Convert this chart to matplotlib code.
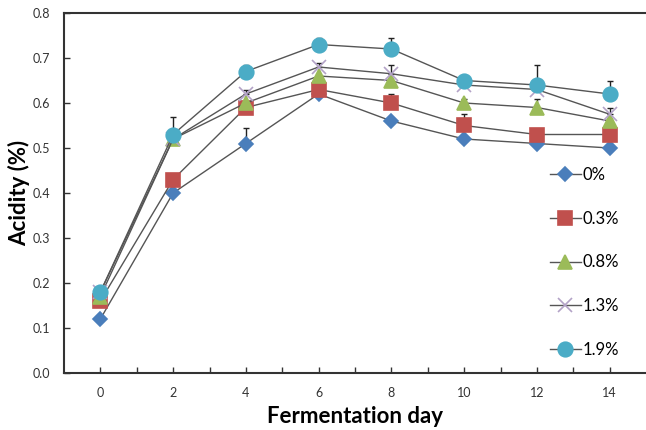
import matplotlib.pyplot as plt
import numpy as np

days = [0, 2, 4, 6, 8, 10, 12, 14]
labels = ['0%', '0.3%', '0.8%', '1.3%', '1.9%']

acid_0 = [0.12, 0.40, 0.51, 0.62, 0.56, 0.52, 0.51, 0.50]
acid_03 = [0.16, 0.43, 0.59, 0.63, 0.60, 0.55, 0.53, 0.53]
acid_08 = [0.17, 0.52, 0.60, 0.66, 0.65, 0.60, 0.59, 0.56]
acid_13 = [0.18, 0.52, 0.62, 0.68, 0.665, 0.64, 0.63, 0.575]
acid_19 = [0.18, 0.53, 0.67, 0.73, 0.72, 0.65, 0.64, 0.62]

err_0 = [0.0, 0.0, 0.035, 0.0, 0.0, 0.0, 0.0, 0.0]
err_03 = [0.0, 0.004, 0.005, 0.005, 0.02, 0.025, 0.0, 0.0]
err_08 = [0.0, 0.0, 0.005, 0.0, 0.0, 0.01, 0.02, 0.0]
err_13 = [0.01, 0.02, 0.01, 0.01, 0.02, 0.0, 0.0, 0.015]
err_19 = [0.0, 0.04, 0.015, 0.015, 0.025, 0.01, 0.045, 0.03]

plt.rcParams['font.family'] = ['Lato', 'DejaVu Sans']

fig = plt.figure(figsize=(6.46, 4.30), dpi=100)
ax = fig.add_axes([64/646, 57/430, 582/646, 360/430])

series = [
    (acid_0, err_0, 'D', '#4a7ebb', 7),
    (acid_03, err_03, 's', '#c0504d', 9.5),
    (acid_08, err_08, '^', '#9bbb59', 9.5),
    (acid_13, err_13, 'x', '#b3a2c7', 10),
    (acid_19, err_19, 'o', '#4bacc6', 10.5),
]

for (vals, errs, mk, col, ms), lab in zip(series, labels):
    lower = np.zeros(len(errs))
    ax.errorbar(days, vals, yerr=[lower, errs], fmt='none', ecolor='#222222',
                elinewidth=1, capsize=2, capthick=1, zorder=2)
    ax.plot(days, vals, linestyle='-', color='#555555', lw=1, marker=mk,
            markersize=ms, markerfacecolor=col, markeredgecolor=col,
            markeredgewidth=1.2, label=lab, zorder=4)

ax.set_xlim(-1, 15)
ax.set_ylim(0, 0.8)
ax.set_xticks(range(0, 15))
ax.set_xticklabels([str(d) if d % 2 == 0 else '' for d in range(0, 15)])
ax.set_yticks(np.arange(0, 0.81, 0.1))
ax.set_yticklabels(['%.1f' % v for v in np.arange(0, 0.81, 0.1)])
ax.tick_params(direction='in', length=4, width=1, labelsize=9, colors='#333333')
ax.tick_params(axis='x', pad=10)
ax.tick_params(axis='y', pad=10)

ax.spines['right'].set_visible(False)
for s in ['left', 'bottom', 'top']:
    ax.spines[s].set_color('#333333')
    ax.spines[s].set_linewidth(1.5)

ax.set_xlabel('Fermentation day', fontsize=16, fontweight='bold', labelpad=5)
ax.set_ylabel('Acidity (%)', fontsize=16, fontweight='bold', labelpad=2)

ax.legend(loc='upper left', bbox_to_anchor=(0.82, 0.595), frameon=False,
          fontsize=12, labelspacing=1.66, handlelength=1.9, handletextpad=0.1,
          borderpad=0)

fig.savefig('out.png', dpi=100)
